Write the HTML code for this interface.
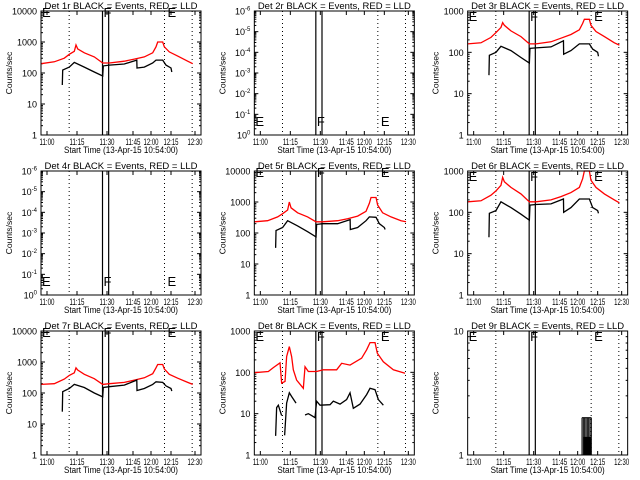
<!DOCTYPE html>
<html><head><meta charset="utf-8"><title>Det rates</title>
<style>
body{margin:0;background:#fff;}
svg{display:block;font-family:"Liberation Sans",sans-serif;}
text{fill:#000;}
</style></head>
<body>
<svg id="chart" width="640" height="480" viewBox="0 0 640 480">
<rect width="640" height="480" fill="#fff"/>
</svg>
<script>
// ---- data (minutes from axis start ~10:57) ----
const T_RED = [0,8,14,17,20,21,22,26,32,37,41,50,56,62,67,69,70,73,74,77,82,88,91];
const T_BLACK = [12.8,13,17,20,26,32,37,37.4,41,50,57.5,57.6,62,67,69,73,75,78,78.5];
const RED_1 = [200,230,300,400,500,800,600,450,330,210,210,240,280,330,450,700,1000,1000,700,480,350,240,200];
const RED_3 = [160,170,230,300,400,525,450,330,240,160,160,180,220,270,350,500,630,630,450,320,240,170,150];
const RED_5 = [230,250,330,420,550,1000,650,450,330,230,230,250,290,350,500,900,1400,1400,800,450,330,250,230];
const RED_6 = [180,190,260,330,450,700,550,400,280,180,180,200,240,300,400,650,1000,1000,600,400,280,200,170];
const RED_7 = [190,200,280,370,450,650,550,400,290,190,200,220,260,310,420,650,830,830,600,400,300,220,190];
const BLACK_1 = [41,125,155,220,155,108,80,170,180,195,260,145,155,210,260,260,180,145,108];
const BLACK_3 = [28,85,100,140,110,75,55,125,128,135,190,90,110,160,160,160,120,100,80];
const BLACK_5 = [33,120,150,250,170,110,75,190,200,200,270,130,150,250,330,320,200,150,130];
const BLACK_6 = [25,95,110,180,130,90,65,150,155,160,210,100,130,210,210,210,130,110,95];
const BLACK_7 = [25,110,140,190,150,100,75,150,160,180,260,120,140,190,230,220,170,140,115];
const T_RED_8 = [0,8.4,11.4,15.4,16.4,18.4,19.4,21,22.4,23.4,25.4,29.4,30.4,32.4,37.4,41.4,49.4,52.4,57.4,64.4,67.4,69.4,72.4,73.8,77.4,83.4,90.4];
const RED_8 = [98,105,130,170,55,60,240,420,240,115,65,41,137,105,105,115,115,165,150,220,350,525,525,290,180,115,95];
const T_BLACK_8 = [12.8,13.4,14.4,16.4,null,18.2,19.4,21,22.4,25,null,30.4,32.4,34.4,36.4,37.4,39.4,45.4,47.4,51.4,55.4,57.4,59.4,63.4,67.4,69.4,72.4,74.4,77.4];
const BLACK_8 = [2.9,14,16,9,null,3,18,32,26,18,null,9.3,10,9,8,20,16,16.5,20,17,22,32,13.5,17,29,41,38,22,16];
const T_BLACK_9 = [68.6,69.4,70.2,71,71.8,72.6,73.4,74.2];
const BLACK_9 = [2,2,2,2,2,2,2,2];
const TICK_LABELS = ["11:00","11:15","11:30","11:45","12:00","12:15","12:30"];
const TICK_MIN = [3.6,21.6,39.6,55.2,66,78,92.4];
const DOTTED_T = [16.9,74.1,90.7];
const SOLID_T = [36.9,40.6];
const PANEL_DET = ["1r","2r","3r","4r","5r","6r","7r","8r","9r"];
const PANEL_LO = [0,-6,0,-6,0,0,0,0,0];
const PANEL_HI = [4,0,3,0,4,3,4,3,1];

const NS="http://www.w3.org/2000/svg";
const svg=document.getElementById('chart');
function mk(tag,attrs,parent){const e=document.createElementNS(NS,tag);for(const k in attrs)e.setAttribute(k,attrs[k]);parent.appendChild(e);return e;}
const L=41,R=201,TOP=11,BOT=135;
function xs(t){return L+t*(R-L)/96;}
function ysf(lo,hi){return v=>BOT-(Math.log10(v)-lo)/(hi-lo)*(BOT-TOP);}

function pathFrom(T,V,ys){let d='',pen=false;for(let i=0;i<T.length;i++){if(T[i]===null||V[i]===null){pen=false;continue;}d+=(pen?'L':'M')+xs(T[i]).toFixed(1)+' '+ys(V[i]).toFixed(1);pen=true;}return d;}

const seriesMap={0:[T_RED,RED_1,T_BLACK,BLACK_1],2:[T_RED,RED_3,T_BLACK,BLACK_3],4:[T_RED,RED_5,T_BLACK,BLACK_5],5:[T_RED,RED_6,T_BLACK,BLACK_6],6:[T_RED,RED_7,T_BLACK,BLACK_7],7:[T_RED_8,RED_8,T_BLACK_8,BLACK_8]};

for(let p=0;p<9;p++){
  const col=p%3,row=Math.floor(p/3);
  const g=mk('g',{transform:`translate(${(col*213.33).toFixed(2)},${row*160})`},svg);
  
  
  const lo=PANEL_LO[p],hi=PANEL_HI[p],ys=ysf(lo,hi);
  const title=mk('text',{x:121,y:9,'font-size':9.5,'text-anchor':'middle',textLength:153,lengthAdjust:'spacingAndGlyphs'},g);
  title.textContent=`Det ${PANEL_DET[p]} BLACK = Events, RED = LLD`;
  
  
  const yg=mk('g',{},g);
  
  
  for(let d=lo;d<=hi;d++){
    const y=ys(Math.pow(10,d));
    mk('line',{x1:L,x2:L+4,y1:y,y2:y,stroke:'#000','stroke-width':1},yg);
    mk('line',{x1:R-4,x2:R,y1:y,y2:y,stroke:'#000','stroke-width':1},yg);
    const t=mk('text',{x:37,y:y+3.5,'font-size':9,'text-anchor':'end'},yg);
    if(lo<0){t.textContent='10';const e=-(d-lo);const s=mk('tspan',{dy:-4,'font-size':6},t);s.textContent=String(e);}
    else t.textContent=String(Math.pow(10,d));
    
    
    if(d<hi){for(let m=2;m<=9;m++){const ym=ys(m*Math.pow(10,d));mk('line',{x1:L,x2:L+2,y1:ym,y2:ym,stroke:'#000'},yg);mk('line',{x1:R-2,x2:R,y1:ym,y2:ym,stroke:'#000'},yg);}}
  }
  const yt=mk('text',{x:0,y:0,'font-size':8.5,'text-anchor':'middle',transform:'translate(12,73) rotate(-90)'},g);
  yt.textContent='Counts/sec';
  
  
  for(let i=0;i<TICK_LABELS.length;i++){
    const x=xs(TICK_MIN[i]);
    mk('line',{x1:x,x2:x,y1:BOT,y2:BOT-4,stroke:'#000'},g);
    mk('line',{x1:x,x2:x,y1:TOP,y2:TOP+4,stroke:'#000'},g);
    const t=mk('text',{x:x,y:145,'font-size':9,'text-anchor':'middle',textLength:15,lengthAdjust:'spacingAndGlyphs'},g);
    t.textContent=TICK_LABELS[i];
    
    
  }
  const xt=mk('text',{x:121,y:153,'font-size':9,'text-anchor':'middle',textLength:114,lengthAdjust:'spacingAndGlyphs'},g);
  xt.textContent='Start Time (13-Apr-15 10:54:00)';
  
  
  for(const t of DOTTED_T){const l=mk('line',{x1:xs(t),x2:xs(t),y1:TOP,y2:BOT,stroke:'#000','stroke-dasharray':'1,3'},g);}
  for(const t of SOLID_T){const l=mk('line',{x1:xs(t),x2:xs(t),y1:TOP,y2:BOT,stroke:'#000','stroke-width':1.2},g);}
  if(seriesMap[p]){
    const [tr,vr,tb,vb]=seriesMap[p];
    const rp=mk('path',{d:pathFrom(tr,vr,ys),fill:'none',stroke:'#f00','stroke-width':1.3},g);
    
    
    const bp=mk('path',{d:pathFrom(tb,vb,ys),fill:'none',stroke:'#000','stroke-width':1.3},g);
    
    
  }
  if(p===8){
    const bg=mk('g',{},g);
    
    
    for(let i=0;i<T_BLACK_9.length;i++){const x=xs(T_BLACK_9[i]);mk('line',{x1:x,x2:x,y1:BOT,y2:ys(BLACK_9[i]),stroke:'#000','stroke-width':1},bg);}
    mk('line',{x1:xs(T_BLACK_9[0]),x2:xs(T_BLACK_9[T_BLACK_9.length-1]),y1:ys(BLACK_9[0]),y2:ys(BLACK_9[0]),stroke:'#000'},bg);
    mk('rect',{x:xs(69.6),y:ys(1.4),width:xs(74.2)-xs(69.6),height:BOT-ys(1.4),fill:'#000'},bg);
  }
  const labY=(lo<0)?126:(p===0||p===4||p===6)?17:21;
  const labs=[['E',L+1],['F',xs(36.9)+1],['E',xs(74.1)+3]];
  for(const [s,x] of labs){const t=mk('text',{x:x,y:labY,'font-size':13},g);t.textContent=s;}
  const b=mk('rect',{x:L,y:TOP,width:R-L,height:BOT-TOP,fill:'none',stroke:'#000','stroke-width':1},g);
  
  
}
</script>
</body></html>
